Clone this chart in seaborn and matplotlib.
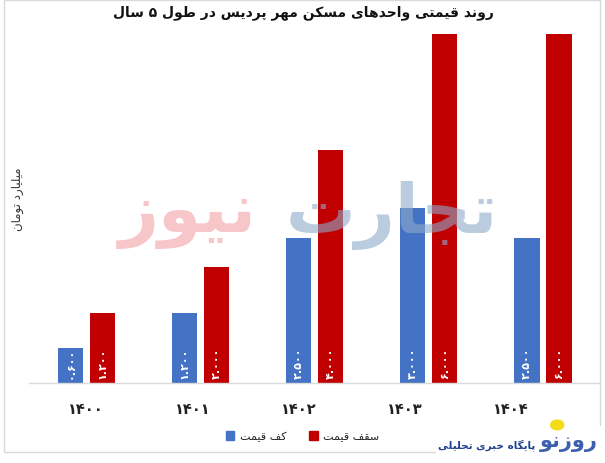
import pandas as pd
import matplotlib.pyplot as plt
import seaborn as sns
from matplotlib.patches import Rectangle, Circle

# data (billion toman)
years = ['۱۴۰۰', '۱۴۰۱', '۱۴۰۲', '۱۴۰۳', '۱۴۰۴']
floor_price = [0.6, 1.2, 2.5, 3.0, 2.5]
ceiling_price = [1.2, 2.0, 4.0, 6.0, 6.0]
series = ['کف قیمت', 'سقف قیمت']
colors = ['#4472C4', '#C00000']

title = 'روند قیمتی واحدهای مسکن مهر پردیس در طول ۵ سال'
ylabel = 'میلیارد تومان'
watermark = ['تجارت', 'نیوز']
logo_name = 'روزنو'
logo_sub = 'پایگاه خبری تحلیلی'

# matplotlib does not shape arabic script, so map letters to presentation forms
# (isolated, final, initial, medial) and reverse into visual order
forms = {
    'ا': ('\uFE8D', '\uFE8E', None, None),
    'ب': ('\uFE8F', '\uFE90', '\uFE91', '\uFE92'),
    'ت': ('\uFE95', '\uFE96', '\uFE97', '\uFE98'),
    'ج': ('\uFE9D', '\uFE9E', '\uFE9F', '\uFEA0'),
    'ح': ('\uFEA1', '\uFEA2', '\uFEA3', '\uFEA4'),
    'خ': ('\uFEA5', '\uFEA6', '\uFEA7', '\uFEA8'),
    'د': ('\uFEA9', '\uFEAA', None, None),
    'ر': ('\uFEAD', '\uFEAE', None, None),
    'ز': ('\uFEAF', '\uFEB0', None, None),
    'س': ('\uFEB1', '\uFEB2', '\uFEB3', '\uFEB4'),
    'ط': ('\uFEC1', '\uFEC2', '\uFEC3', '\uFEC4'),
    'ف': ('\uFED1', '\uFED2', '\uFED3', '\uFED4'),
    'ق': ('\uFED5', '\uFED6', '\uFED7', '\uFED8'),
    'ل': ('\uFEDD', '\uFEDE', '\uFEDF', '\uFEE0'),
    'م': ('\uFEE1', '\uFEE2', '\uFEE3', '\uFEE4'),
    'ن': ('\uFEE5', '\uFEE6', '\uFEE7', '\uFEE8'),
    'ه': ('\uFEE9', '\uFEEA', '\uFEEB', '\uFEEC'),
    'و': ('\uFEED', '\uFEEE', None, None),
    'پ': ('\uFB56', '\uFB57', '\uFB58', '\uFB59'),
    'ک': ('\uFB8E', '\uFB8F', '\uFB90', '\uFB91'),
    'گ': ('\uFB92', '\uFB93', '\uFB94', '\uFB95'),
    'ی': ('\uFBFC', '\uFBFD', '\uFBFE', '\uFBFF'),
}


def shape(s):
    out = []
    for i, c in enumerate(s):
        if c not in forms:
            out.append(c)
            continue
        prev = s[i - 1] if i > 0 else ''
        nxt = s[i + 1] if i + 1 < len(s) else ''
        jp = prev in forms and forms[prev][2] is not None
        jn = nxt in forms and forms[c][2] is not None
        iso, fin, ini, med = forms[c]
        if jp and jn:
            out.append(med)
        elif jp:
            out.append(fin)
        elif jn:
            out.append(ini)
        else:
            out.append(iso)
    return ''.join(out)[::-1]


def fa_num(v):
    return f'{v:.3f}'.translate(str.maketrans('0123456789', '۰۱۲۳۴۵۶۷۸۹'))


df = pd.DataFrame({
    'year': years * 2,
    'value': floor_price + ceiling_price,
    'type': [shape(series[0])] * len(years) + [shape(series[1])] * len(years),
})

sns.set_style('white')
plt.rcParams['font.family'] = ['DejaVu Sans']

fig = plt.figure(figsize=(6.05, 4.64), dpi=100)
ax = fig.add_axes([0.048, 0.1724, 0.944, 0.7522])

sns.barplot(data=df, x='year', y='value', hue='type', palette=colors,
            saturation=1, width=0.56, gap=0.21, linewidth=0, ax=ax, legend=False)

ax.set_ylim(0, 6)
ax.set_xlim(-0.5, 4.5)
ax.set_yticks([])
ax.set_ylabel('')
ax.set_xlabel('')
for s in ['top', 'right', 'left']:
    ax.spines[s].set_visible(False)
ax.spines['bottom'].set_color('#d9d9d9')
ax.spines['bottom'].set_linewidth(1)
ax.set_xticks([i * 0.93 for i in range(len(years))])
ax.set_xticklabels(years, fontsize=10.5, fontweight='bold', color='#222222')
ax.tick_params(axis='x', length=0, pad=13)

# value labels inside the bars, rotated
vals = floor_price + ceiling_price
for p, v in zip(ax.patches, vals):
    ax.text(p.get_x() + p.get_width() / 2, 0.08, fa_num(v), rotation=90,
            ha='center', va='bottom', color='white', fontsize=8,
            fontweight='bold')

# watermark
fig.text(0.31, 0.535, shape(watermark[1]), fontsize=50, fontweight='bold',
         color='#f3a0a5', alpha=0.6, ha='center', va='center', zorder=5)
fig.text(0.648, 0.535, shape(watermark[0]), fontsize=50, fontweight='bold',
         color='#8eaacb', alpha=0.6, ha='center', va='center', zorder=5)

fig.text(0.502, 0.972, shape(title), fontsize=10, fontweight='bold',
         ha='center', va='center', color='#111111')
fig.text(0.029, 0.57, shape(ylabel), fontsize=8.5, rotation=90,
         ha='center', va='center', color='#333333')

# legend
handles = [Rectangle((0, 0), 1, 1, color=c) for c in colors]
fig.legend(handles, [shape(s) for s in series], loc='center',
           bbox_to_anchor=(0.5, 0.058), ncol=2, frameon=False, fontsize=8,
           handlelength=0.8, handleheight=0.8, columnspacing=2.0,
           handletextpad=0.5)

# chart container border
fig.patches.append(Rectangle((0.007, 0.024), 0.985, 0.974, transform=fig.transFigure,
                             fill=False, edgecolor='#d9d9d9', linewidth=1))

# logo in the bottom right corner
fig.patches.append(Rectangle((0.72, 0.0), 0.28, 0.05 + 0.03, transform=fig.transFigure,
                             facecolor='white', edgecolor='none', zorder=3))
fig.patches.append(Circle((0.921, 0.082), 0.012, transform=fig.transFigure,
                          facecolor='#f2dc1a', edgecolor='none', zorder=4))
fig.text(0.94, 0.048, shape(logo_name), fontsize=15, fontweight='bold',
         color='#3d5fae', ha='center', va='center', zorder=5)
fig.text(0.805, 0.04, shape(logo_sub), fontsize=7.5, fontweight='bold',
         color='#1f3f8f', ha='center', va='center', zorder=5)

fig.savefig('out.png', dpi=100)
